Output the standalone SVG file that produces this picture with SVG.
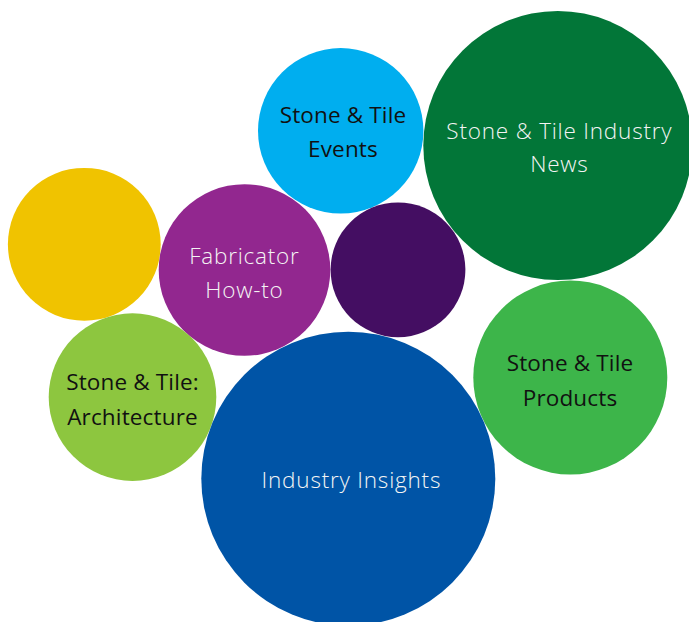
<svg xmlns="http://www.w3.org/2000/svg" width="689" height="622" viewBox="0 0 689 622">
<style>
  text { font-family: "Open Sans", "Noto Sans", "Liberation Sans", sans-serif; font-size: 22.5px; text-anchor: middle; }
  .lt { fill: #f4f4f4; font-weight: 300; letter-spacing: 0.8px; }
  .dk { fill: #111111; letter-spacing: 0.15px; }
</style>
<rect width="689" height="622" fill="#ffffff"/>
<g id="yellow"><circle cx="84.3" cy="244.3" r="76.4" fill="#F0C300"/></g>
<g id="fabricator"><circle cx="244.5" cy="270" r="85.8" fill="#92278F"/>
  <text class="lt" x="244.4" y="263.5">Fabricator</text>
  <text class="lt" x="244.4" y="297.7">How-to</text></g>
<g id="events"><circle cx="340.7" cy="130.8" r="82.7" fill="#00AEEF"/>
  <text class="dk" x="343" y="123.3">Stone &amp; Tile</text>
  <text class="dk" x="343" y="157.3">Events</text></g>
<g id="darkpurple"><circle cx="398" cy="269.8" r="67.4" fill="#440E62"/></g>
<g id="news"><circle cx="557.8" cy="145.5" r="134.5" fill="#027638"/>
  <text class="lt" x="559.4" y="138.5">Stone &amp; Tile Industry</text>
  <text class="lt" x="559.4" y="172">News</text></g>
<g id="products"><circle cx="570.3" cy="377.5" r="97" fill="#3DB54A"/>
  <text class="dk" x="570" y="370.7">Stone &amp; Tile</text>
  <text class="dk" x="570" y="405.7">Products</text></g>
<g id="architecture"><circle cx="132.5" cy="397.1" r="83.8" fill="#8DC63F"/>
  <text class="dk" x="132.5" y="390">Stone &amp; Tile:</text>
  <text class="dk" x="132.5" y="425">Architecture</text></g>
<g id="insights"><circle cx="348.3" cy="478.7" r="147" fill="#0054A6"/>
  <text class="lt" x="351.4" y="488.3">Industry Insights</text></g>
<g id="connectors"></g>
</svg>
